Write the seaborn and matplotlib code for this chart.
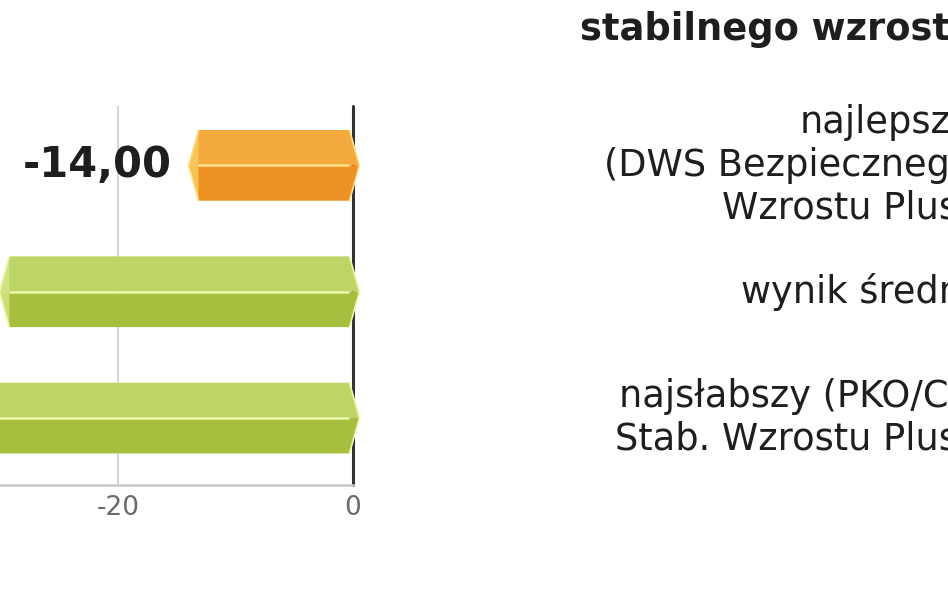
import matplotlib
matplotlib.use("Agg")
import matplotlib.pyplot as plt
import seaborn as sns
import pandas as pd
from matplotlib.patches import Polygon
from matplotlib.transforms import blended_transform_factory

# ---- data ----
categories = ["najlepszy\n(DWS Bezpiecznego\nWzrostu Plus)",
              "wynik średni",
              "najsłabszy (PKO/CS\nStab. Wzrostu Plus)"]
values = [-14.00, -30.1, -36.0]
value_labels = ["-14,00", "-30,10", "-36,00"]
kinds = ["best", "avg", "worst"]
title_text = "stabilnego wzrostu"
xticks = [-20, 0]
xtick_labels = ["-20", "0"]

# ---- style ----
upper_col = {"best": "#F4AA3C", "avg": "#BDD566", "worst": "#BDD566"}
lower_col = {"best": "#EE9124", "avg": "#A7BF3F", "worst": "#A7BF3F"}
facet_col = {"best": "#F8CC62", "avg": "#D6E68A", "worst": "#D6E68A"}
hl_col = {"best": "#FFE38E", "avg": "#EEF8A8", "worst": "#EEF8A8"}

sns.set_theme(style="white")
plt.rcParams['font.family'] = ['DejaVu Sans']

W, H = 948, 593
fig = plt.figure(figsize=(W / 100, H / 100), dpi=100)
fig.patch.set_facecolor("white")
ax_top, ax_bot, ax_right = 106, 485, 353
ax = fig.add_axes([0, 1 - ax_bot / H, ax_right / W, (ax_bot - ax_top) / H])

df = pd.DataFrame({"cat": categories, "value": values, "kind": kinds})
sns.barplot(data=df, x="value", y="cat", hue="kind",
            palette=lower_col, width=0.56, dodge=False,
            legend=False, ax=ax)

ax.set_xlim(-30.04, 0)
ax.set_ylim(2.53, -0.47)

tip = 0.85
for p in list(ax.patches):
    bb = p.get_bbox()
    xl, xr = min(bb.x0, bb.x1), max(bb.x0, bb.x1)
    y0, y1 = min(bb.y0, bb.y1), max(bb.y0, bb.y1)
    ym = (y0 + y1) / 2
    yc = round(ym)
    k = kinds[yc]
    p.set_visible(False)
    ltip = xl
    lbody = xl + tip
    rtip = xr + 0.55
    rbody = xr - 0.3
    ax.add_patch(Polygon([(ltip, ym), (lbody, y0), (rbody, y0), (rtip, ym)],
                         closed=True, facecolor=upper_col[k], edgecolor="none",
                         zorder=3, clip_on=False))
    ax.add_patch(Polygon([(ltip, ym), (lbody, y1), (rbody, y1), (rtip, ym)],
                         closed=True, facecolor=lower_col[k], edgecolor="none",
                         zorder=3, clip_on=False))
    ax.add_patch(Polygon([(ltip, ym), (lbody, y0), (lbody, y1)],
                         closed=True, facecolor=facet_col[k], edgecolor="none",
                         alpha=0.8, zorder=4, clip_on=False))
    ax.plot([lbody, rbody], [ym, ym], color=hl_col[k], lw=1.8,
            zorder=5, solid_capstyle="butt", clip_on=False)
    for (xa, ya, xb, yb) in [(ltip, ym, lbody, y0), (ltip, ym, lbody, y1),
                             (rbody, y0, rtip, ym), (rbody, y1, rtip, ym)]:
        ax.plot([xa, xb], [ya, yb], color=hl_col[k], lw=1.2, zorder=5,
                clip_on=False)

# value labels
for i, (v, lab) in enumerate(zip(values, value_labels)):
    ax.text(v - 1.4, i, lab, ha="right", va="center", fontsize=30,
            fontweight="bold", color="#1e1e1e", zorder=6, clip_on=False)

# reference lines
ax.axvline(0, color="#333333", lw=2.2, zorder=1, clip_on=False)
ax.axvline(-20, color="#d6d6d6", lw=1.5, zorder=1)

for s in ["top", "right", "left"]:
    ax.spines[s].set_visible(False)
ax.spines["bottom"].set_color("#c8c8c8")
ax.spines["bottom"].set_linewidth(1.8)

ax.set_xticks(xticks)
ax.set_xticklabels(xtick_labels)
ax.tick_params(axis="x", length=0, pad=7, labelsize=19, labelcolor="#6a6a6a")
ax.set_yticks([])
ax.set_xlabel("")
ax.set_ylabel("")

# category labels on the right (right-aligned beyond the figure edge)
trans = blended_transform_factory(fig.transFigure, ax.transData)
for i, c in enumerate(categories):
    ax.text(972 / W, i, c, transform=trans, ha="right", va="center",
            fontsize=26.5, linespacing=1.2, color="#1e1e1e", clip_on=False)

fig.text(580 / W, 1 - 30 / H, title_text, ha="left", va="center",
         fontsize=26.5, fontweight="bold", color="#1e1e1e")

fig.savefig("out.png", dpi=100)
